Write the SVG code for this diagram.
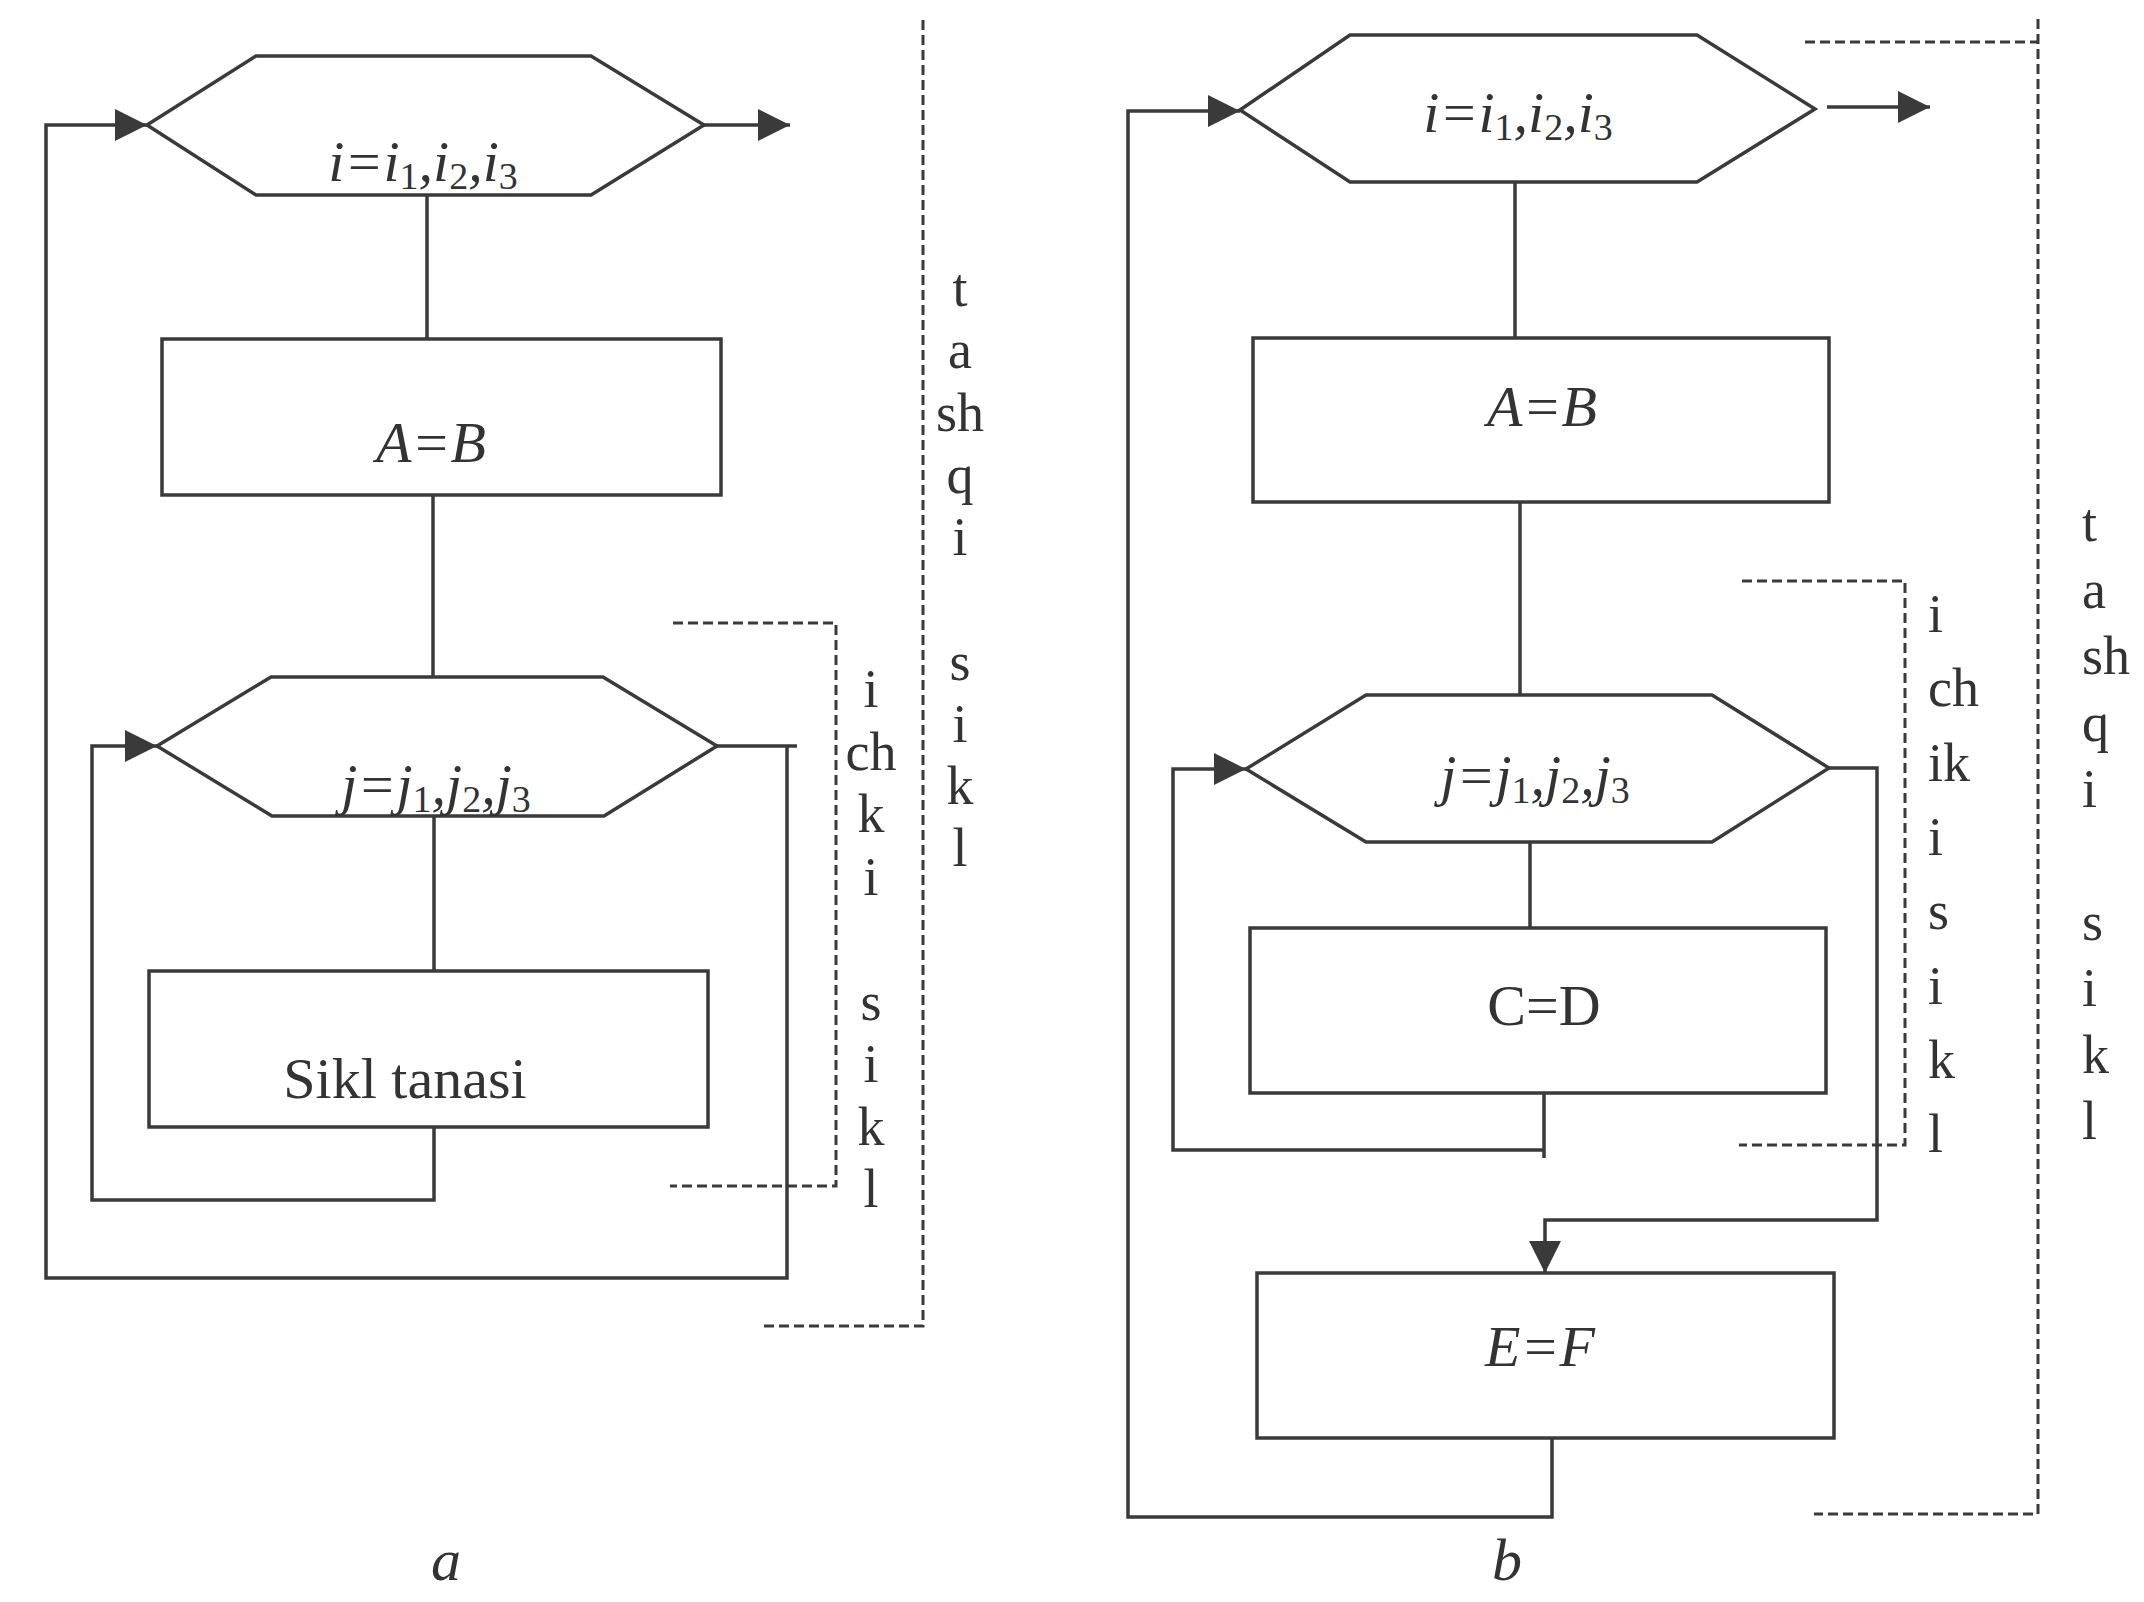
<svg xmlns="http://www.w3.org/2000/svg" width="2144" height="1602" viewBox="0 0 2144 1602">
<style>
.ln{fill:none;stroke:#3a3a3a;stroke-width:3.5;stroke-linejoin:miter}
.sh{fill:#ffffff;stroke:#3a3a3a;stroke-width:3.5}
.ds{fill:none;stroke:#3a3a3a;stroke-width:3;stroke-dasharray:10 5}
.t{font-family:"Liberation Serif","Times New Roman",serif;font-size:58px;fill:#333333;text-anchor:middle}
.it{font-style:italic}
.sub{font-size:38px;font-style:normal}
.lb{font-family:"Liberation Serif","Times New Roman",serif;font-size:54px;fill:#333333}
.lc{text-anchor:middle}
.cap{font-size:60px}
</style>
<defs>
<marker id="arr" viewBox="0 0 10 10" refX="10" refY="5" markerUnits="userSpaceOnUse" markerWidth="32" markerHeight="32" orient="auto">
<path d="M0,0 L10,5 L0,10 z" fill="#3a3a3a"/>
</marker>
</defs>
<rect x="0" y="0" width="2144" height="1602" fill="#ffffff"/>

<g id="connectors">
<!-- diagram a -->
<path class="ln" d="M427,195 V339"/>
<path class="ln" d="M433,495 V677"/>
<path class="ln" d="M434,816 V971"/>
<path class="ln" d="M434,1127 V1200 H92 V746 H157" marker-end="url(#arr)"/>
<path class="ln" d="M717,746 H797"/>
<path class="ln" d="M787,746 V1278 H46 V125 H147" marker-end="url(#arr)"/>
<path class="ln" d="M704,125 H790" marker-end="url(#arr)"/>
<!-- diagram b -->
<path class="ln" d="M1515,182 V338"/>
<path class="ln" d="M1520,502 V695"/>
<path class="ln" d="M1530,842 V928"/>
<path class="ln" d="M1544,1093 V1158 M1544,1150 H1173 V769 H1246" marker-end="url(#arr)"/>
<path class="ln" d="M1829,768 H1877 V1220 H1545 V1273" marker-end="url(#arr)"/>
<path class="ln" d="M1552,1438 V1517 H1128 V111 H1240" marker-end="url(#arr)"/>
<path class="ln" d="M1827,107 H1930" marker-end="url(#arr)"/>
</g>

<g id="brackets">
<path class="ds" d="M923,20 V1326 H762"/>
<path class="ds" d="M673,623 H836 V1186 H670"/>
<path class="ds" d="M2038,19 V1514 H1814 M1805,42 H2038"/>
<path class="ds" d="M1742,581 H1905 V1145 H1739"/>
</g>

<!-- diagram a nodes -->
<g id="a-loop-i">
<polygon class="sh" points="147,125 256,56 591,56 704,125 591,195 256,195"/>
<text class="t it" x="423" y="181">i=i<tspan class="sub" dy="8">1</tspan><tspan dy="-8">,i</tspan><tspan class="sub" dy="8">2</tspan><tspan dy="-8">,i</tspan><tspan class="sub" dy="8">3</tspan></text>
</g>
<g id="a-ab">
<rect class="sh" x="162" y="339" width="559" height="156"/>
<text class="t it" x="431" y="462">A=B</text>
</g>
<g id="a-loop-j">
<polygon class="sh" points="157,746 271,677 603,677 717,746 604,816 272,816"/>
<text class="t it" x="436" y="804">j=j<tspan class="sub" dy="8">1</tspan><tspan dy="-8">,j</tspan><tspan class="sub" dy="8">2</tspan><tspan dy="-8">,j</tspan><tspan class="sub" dy="8">3</tspan></text>
</g>
<g id="a-body">
<rect class="sh" x="149" y="971" width="559" height="156"/>
<text class="t" x="405" y="1098">Sikl tanasi</text>
</g>
<g id="a-outer-label">
<text class="lb lc" x="960" y="306">t</text>
<text class="lb lc" x="960" y="368">a</text>
<text class="lb lc" x="960" y="431">sh</text>
<text class="lb lc" x="960" y="493">q</text>
<text class="lb lc" x="960" y="555">i</text>
<text class="lb lc" x="960" y="680">s</text>
<text class="lb lc" x="960" y="742">i</text>
<text class="lb lc" x="960" y="804">k</text>
<text class="lb lc" x="960" y="866">l</text>
</g>
<g id="a-inner-label">
<text class="lb lc" x="871" y="707">i</text>
<text class="lb lc" x="871" y="770">ch</text>
<text class="lb lc" x="871" y="832">k</text>
<text class="lb lc" x="871" y="895">i</text>
<text class="lb lc" x="871" y="1020">s</text>
<text class="lb lc" x="871" y="1082">i</text>
<text class="lb lc" x="871" y="1145">k</text>
<text class="lb lc" x="871" y="1207">l</text>
</g>
<g id="caption-a">
<text class="t it cap" x="446" y="1580">a</text>
</g>

<!-- diagram b nodes -->
<g id="b-loop-i">
<polygon class="sh" points="1240,110 1350,35 1697,35 1815,109 1697,182 1350,182"/>
<text class="t it" x="1518" y="132">i=i<tspan class="sub" dy="8">1</tspan><tspan dy="-8">,i</tspan><tspan class="sub" dy="8">2</tspan><tspan dy="-8">,i</tspan><tspan class="sub" dy="8">3</tspan></text>
</g>
<g id="b-ab">
<rect class="sh" x="1253" y="338" width="576" height="164"/>
<text class="t it" x="1542" y="426">A=B</text>
</g>
<g id="b-loop-j">
<polygon class="sh" points="1246,769 1366,695 1712,695 1829,768 1712,842 1366,842"/>
<text class="t it" x="1535" y="795">j=j<tspan class="sub" dy="8">1</tspan><tspan dy="-8">,j</tspan><tspan class="sub" dy="8">2</tspan><tspan dy="-8">,j</tspan><tspan class="sub" dy="8">3</tspan></text>
</g>
<g id="b-cd">
<rect class="sh" x="1250" y="928" width="576" height="165"/>
<text class="t" x="1544" y="1025">C=D</text>
</g>
<g id="b-ef">
<rect class="sh" x="1257" y="1273" width="577" height="165"/>
<text class="t it" x="1540" y="1366">E=F</text>
</g>
<g id="b-outer-label">
<text class="lb" x="2082" y="541">t</text>
<text class="lb" x="2082" y="608">a</text>
<text class="lb" x="2082" y="674">sh</text>
<text class="lb" x="2082" y="741">q</text>
<text class="lb" x="2082" y="807">i</text>
<text class="lb" x="2082" y="940">s</text>
<text class="lb" x="2082" y="1006">i</text>
<text class="lb" x="2082" y="1073">k</text>
<text class="lb" x="2082" y="1139">l</text>
</g>
<g id="b-inner-label">
<text class="lb" x="1928" y="632">i</text>
<text class="lb" x="1928" y="706">ch</text>
<text class="lb" x="1928" y="781">ik</text>
<text class="lb" x="1928" y="855">i</text>
<text class="lb" x="1928" y="929">s</text>
<text class="lb" x="1928" y="1004">i</text>
<text class="lb" x="1928" y="1078">k</text>
<text class="lb" x="1928" y="1152">l</text>
</g>
<g id="caption-b">
<text class="t it cap" x="1507" y="1580">b</text>
</g>
</svg>
